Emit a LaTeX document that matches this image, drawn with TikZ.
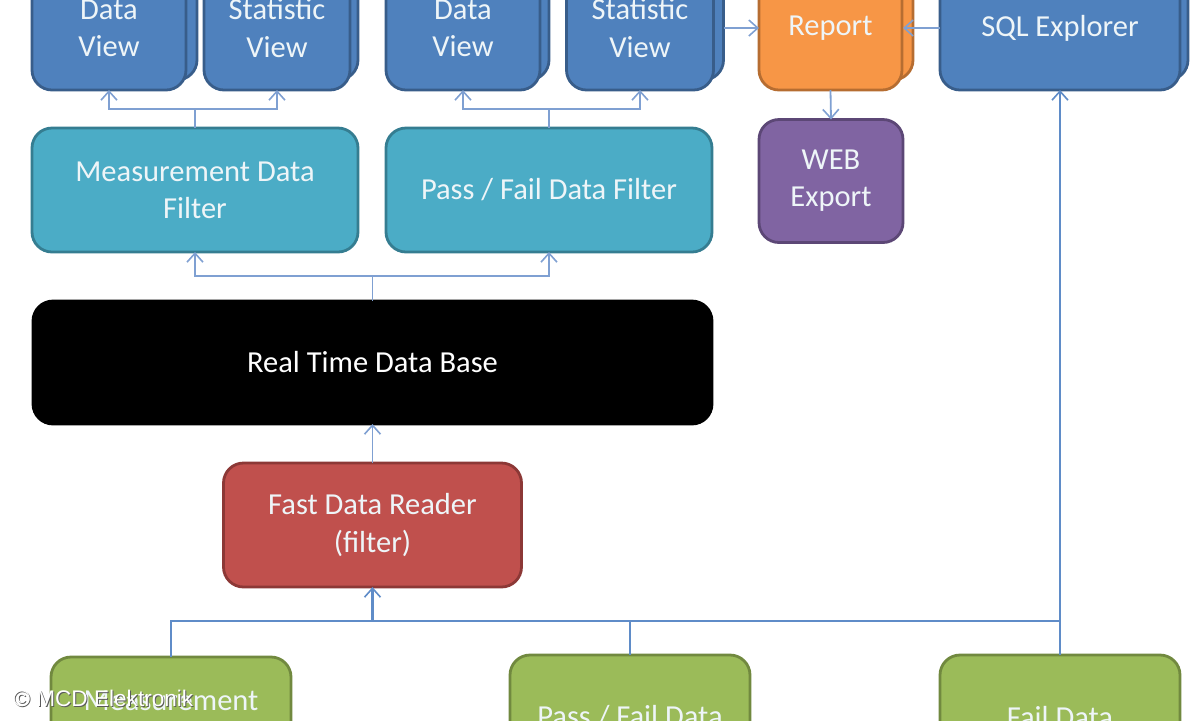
\documentclass[tikz,border=0pt]{standalone}
\usepackage{fontspec}
\setmainfont{Carlito}
\newfontfamily\wmfont{Liberation Sans}
\usetikzlibrary{arrows.meta}
\definecolor{cblue}{HTML}{4F81BD}\definecolor{bblue}{HTML}{385D8A}
\definecolor{cteal}{HTML}{4BACC6}\definecolor{bteal}{HTML}{357D91}
\definecolor{corange}{HTML}{F79646}\definecolor{borange}{HTML}{B66D31}
\definecolor{cpurple}{HTML}{8064A2}\definecolor{bpurple}{HTML}{5C4776}
\definecolor{cred}{HTML}{C0504D}\definecolor{bred}{HTML}{8C3836}
\definecolor{cgreen}{HTML}{9BBB59}\definecolor{bgreen}{HTML}{71893F}
\definecolor{wire}{HTML}{7FA0D2}\definecolor{wiredark}{HTML}{5F8CC8}
\definecolor{ink}{HTML}{EEF5F8}
\newcommand{\dn}[1]{\raisebox{-1pt}{#1}}
\tikzset{
  x=0.5pt,y=-0.5pt,
  box/.style 2 args={draw=#2,fill=#1,line width=1.4pt,rounded corners=10pt,
    text=ink,align=center,inner sep=0pt,outer sep=0pt,
    font=\fontsize{15.25}{18.6}\selectfont},
  sz/.style 2 args={minimum width=#1*0.5pt,minimum height=#2*0.5pt},
  wirel/.style={draw=wire,line width=0.9pt},
  wired/.style={draw=wiredark,line width=1.1pt},
  tip/.style={-{Straight Barb[length=4.5pt,width=8pt,line width=0.8pt]}},
  wmark/.style={anchor=west,inner sep=0pt,font=\wmfont\fontsize{11.3}{12}\selectfont},
}
\begin{document}
\begin{tikzpicture}
\useasboundingbox (0,0) rectangle (1200,720);
\clip (0,0) rectangle (1200,720);
\fill[white] (0,0) rectangle (1200,720);
% stacked back sheets
\node[box={cblue}{bblue},sz={156}{124}] (dvAback) at (119,18) {};
\node[box={cblue}{bblue},sz={146}{124}] (svAback) at (285,18) {};
\node[box={cblue}{bblue},sz={156}{124}] (dvBback) at (471,18) {};
\node[box={cblue}{bblue},sz={147}{124}] (svBback) at (650,18) {};
\node[box={corange}{borange},sz={144}{124}] (repback) at (841,18) {};
\node[box={cblue}{bblue},sz={240}{124}] (sqlback) at (1068,18) {};
% front boxes
\node[box={cblue}{bblue},sz={154}{124}] (dvA) at (109,28) {Data\\View};
\node[box={cblue}{bblue},sz={146}{124}] (svA) at (277,28) {Statistic\\View};
\node[box={cblue}{bblue},sz={154}{124}] (dvB) at (463,28) {Data\\View};
\node[box={cblue}{bblue},sz={147}{124}] (svB) at (640,28) {Statistic\\View};
\node[box={corange}{borange},sz={143}{124}] (rep) at (830.5,28) {\dn{Report}};
\node[box={cblue}{bblue},sz={240}{124}] (sql) at (1060,28) {SQL Explorer};
\node[box={cpurple}{bpurple},sz={144}{123}] (web) at (831,181) {\dn{WEB}\\\dn{Export}};
\node[box={cteal}{bteal},sz={326}{124}] (mf) at (195,190) {\dn{Measurement Data}\\\dn{Filter}};
\node[box={cteal}{bteal},sz={326}{124}] (pf) at (549,190) {Pass / Fail Data Filter};
\node[box={black}{black},sz={679}{123}] (db) at (372.5,362.5) {\textcolor{white}{Real Time Data Base}};
\node[box={cred}{bred},sz={298}{124}] (fast) at (372.5,525) {\dn{Fast Data Reader}\\\dn{(filter)}};
\node[box={cgreen}{bgreen},sz={240}{124}] (gm) at (171,719) {Measurement\\[-6pt]\strut};
\node[box={cgreen}{bgreen},sz={240}{124}] (gp) at (630,717) {Pass / Fail Data};
\node[box={cgreen}{bgreen},sz={240}{124}] (gf) at (1060,717) {Fail Data};
% helper coordinates
\coordinate (jA) at (195,109);
\coordinate (jB) at (549,109);
\coordinate (jC) at (372.5,276);
\coordinate (jM) at (372.5,621);
\coordinate (jP) at (630,621);
\coordinate (jF) at (1060,621);
\coordinate (svBr) at (724,28);
\coordinate (sqlL) at (940,28);
\coordinate (repR) at (903,28);
% connectors
\draw[wirel] (mf.north) -- (jA);
\draw[wirel,tip] (jA) -| (dvA.south);
\draw[wirel,tip] (jA) -| (svA.south);
\draw[wirel] (pf.north) -- (jB);
\draw[wirel,tip] (jB) -| (dvB.south);
\draw[wirel,tip] (jB) -| (svB.south);
\draw[wirel] (db.north) -- (jC);
\draw[wirel,tip] (jC) -| (mf.south);
\draw[wirel,tip] (jC) -| (pf.south);
\draw[wirel,tip] (fast.north) -- (db.south);
\draw[wirel,tip] (svBr) -- (rep.west);
\draw[wirel,tip] (sqlL) -- (repR);
\draw[wirel,tip] (rep.south) -- (web.north);
\draw[wired] (gm.north) |- (jM);
\draw[wired,tip] (jM) -- (fast.south);
\draw[wired] (jM) -- (jF);
\draw[wired] (gp.north) -- (jP);
\draw[wired] (gf.north) -- (jF);
\draw[wired,tip] (jF) -- (sql.south);
% watermark
\node[wmark,text=black!65] (wms) at (14,699) {© MCD Elektronik};
\node[wmark,text=white] (wm) at (13,698) {© MCD Elektronik};
\end{tikzpicture}
\end{document}
